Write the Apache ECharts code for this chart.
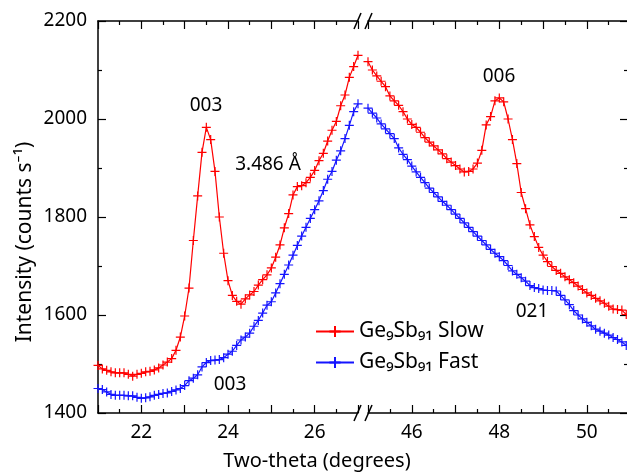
<!DOCTYPE html>
<html>
<head>
<meta charset="utf-8">
<script src="https://cdn.jsdelivr.net/npm/echarts@6/dist/echarts.min.js"></script>
<style>
  html, body { margin: 0; padding: 0; background: #fff; }
  #chart { width: 627px; height: 473px; }
</style>
</head>
<body>
<div id="chart"></div>
<script>
// two-theta sampling of the scan (degrees)
const step = 0.1
const lowStart = 21.0    // left segment 21.0 .. 27.0
const highStart = 45.0   // right segment 45.0 .. 50.9

// Ge9Sb91 slow, left segment
const slowLow = [
  1497, 1490, 1487, 1484, 1482, 1482, 1482, 1479, 1475, 1479,
  1481, 1484, 1485, 1488, 1492, 1498, 1504, 1511, 1528, 1555,
  1598, 1655, 1752, 1843, 1932, 1983, 1958, 1893, 1800, 1726,
  1670, 1640, 1628, 1622, 1633, 1641, 1648, 1661, 1672, 1682,
  1696, 1718, 1743, 1778, 1807, 1845, 1862, 1864, 1870, 1881,
  1895, 1915, 1930, 1955, 1977, 1995, 2027, 2049, 2085, 2107,
  2130
]
// Ge9Sb91 fast, left segment
const fastLow = [
  1450, 1448, 1443, 1438, 1436, 1436, 1436, 1435, 1435, 1432,
  1430, 1431, 1433, 1436, 1438, 1440, 1441, 1444, 1447, 1450,
  1456, 1466, 1471, 1478, 1494, 1503, 1507, 1508, 1509, 1513,
  1520, 1526, 1538, 1549, 1555, 1563, 1577, 1589, 1604, 1620,
  1627, 1645, 1664, 1683, 1702, 1722, 1742, 1761, 1779, 1797,
  1815, 1833, 1854, 1877, 1893, 1916, 1935, 1960, 1987, 2015,
  2031
]
// Ge9Sb91 slow, right segment
const slowHigh = [
  2117, 2100, 2088, 2077, 2066, 2047, 2037, 2028, 2015, 2000,
  1989, 1983, 1973, 1962, 1953, 1945, 1937, 1929, 1919, 1912,
  1905, 1898, 1892, 1893, 1898, 1910, 1936, 1988, 2005, 2037,
  2043, 2035, 2000, 1958, 1909, 1850, 1817, 1784, 1760, 1738,
  1722, 1709, 1699, 1691, 1685, 1678, 1672, 1666, 1659, 1652,
  1645, 1640, 1634, 1629, 1624, 1618, 1612, 1611, 1610, 1601
]
// Ge9Sb91 fast, right segment
const fastHigh = [
  2022, 2012, 2002, 1990, 1980, 1970, 1960, 1941, 1928, 1917,
  1904, 1892, 1881, 1870, 1859, 1850, 1841, 1832, 1824, 1815,
  1806, 1797, 1788, 1779, 1770, 1761, 1752, 1743, 1734, 1726,
  1719, 1711, 1701, 1690, 1683, 1676, 1669, 1660, 1656, 1654,
  1651, 1650, 1650, 1649, 1640, 1631, 1621, 1609, 1600, 1592,
  1585, 1578, 1571, 1567, 1563, 1559, 1554, 1550, 1545, 1538
]

const yTicks = [1400, 1600, 1800, 2000, 2200]
const xLabelsLow = [22, 24, 26]
const xLabelsHigh = [46, 48, 50]

const FONT = 'Noto Sans'
const RED = '#ff0000'
const BLUE = '#1414ff'
const plus = 'path://M0,5L10,5M5,0L5,10'

function pairs(start, vals) {
  return vals.map((v, i) => [+(start + i * step).toFixed(1), v])
}

function xAxis(gridIndex, min, max, position, labels) {
  return {
    type: 'value', gridIndex, position, min, max, interval: 1,
    axisLine: { show: true, onZero: false, lineStyle: { color: '#000', width: 1.5 } },
    axisTick: { show: true, inside: true, length: 8, lineStyle: { color: '#000', width: 1.2 } },
    minorTick: { show: true, splitNumber: 2, length: 4, lineStyle: { color: '#000', width: 1.2 } },
    splitLine: { show: false },
    axisLabel: {
      show: !!labels, margin: 10, fontFamily: FONT, fontSize: 19, color: '#000',
      formatter: v => (labels && labels.some(l => Math.abs(l - v) < 1e-6)) ? String(Math.round(v)) : ''
    }
  }
}

function yAxis(gridIndex, position, labels) {
  return {
    type: 'value', gridIndex, position, min: yTicks[0], max: yTicks[yTicks.length - 1], interval: 200,
    axisLine: { show: true, lineStyle: { color: '#000', width: 1.5 } },
    axisTick: { show: true, inside: true, length: 8, lineStyle: { color: '#000', width: 1.2 } },
    minorTick: { show: true, splitNumber: 2, length: 4, lineStyle: { color: '#000', width: 1.2 } },
    splitLine: { show: false },
    axisLabel: { show: labels, margin: 11, fontFamily: FONT, fontSize: 19, color: '#000', formatter: v => String(v) }
  }
}

function line(name, xi, data, color) {
  return {
    type: 'line', name, xAxisIndex: xi, yAxisIndex: xi < 2 ? 0 : 1, data,
    symbol: plus, symbolSize: 9, showAllSymbol: true, clip: false,
    lineStyle: { color, width: 1.2 },
    itemStyle: { color, borderColor: color, borderWidth: 1.2 },
    emphasis: { disabled: true }
  }
}

function slash(x, y) {
  return { type: 'line', shape: { x1: x, y1: y + 8, x2: x + 7, y2: y - 8 }, style: { stroke: '#000', lineWidth: 1.5 } }
}
function label(text, x, y, size) {
  return { type: 'text', x, y, style: { text, fontFamily: FONT, fontSize: size || 19, fill: '#000', align: 'center', verticalAlign: 'middle' } }
}

const chart = echarts.init(document.getElementById('chart'))
chart.setOption({
  animation: false,
  backgroundColor: '#fff',
  grid: [
    { left: 98, top: 21, width: 260, height: 392, outerBoundsMode: 'none' },
    { left: 368, top: 21, width: 260, height: 392, outerBoundsMode: 'none' }
  ],
  xAxis: [
    xAxis(0, 21, 27, 'bottom', xLabelsLow),
    xAxis(0, 21, 27, 'top', null),
    xAxis(1, 45, 50.94, 'bottom', xLabelsHigh),
    xAxis(1, 45, 50.94, 'top', null)
  ],
  yAxis: [yAxis(0, 'left', true), yAxis(1, 'right', false)],
  legend: {
    orient: 'vertical', left: 310, top: 316, itemWidth: 38, itemHeight: 14, itemGap: 10,
    data: ['Slow', 'Fast'],
    formatter: n => 'Ge₉Sb₉₁ ' + n,
    textStyle: { fontFamily: FONT, fontSize: 21, color: '#000' }
  },
  series: [
    line('Slow', 0, pairs(lowStart, slowLow), RED),
    line('Fast', 0, pairs(lowStart, fastLow), BLUE),
    line('Slow', 2, pairs(highStart, slowHigh), RED),
    line('Fast', 2, pairs(highStart, fastHigh), BLUE)
  ],
  graphic: [
    slash(354, 21), slash(365, 21), slash(354, 413), slash(365, 413),
    label('003', 206, 106),
    label('3.486 Å', 268, 165),
    label('006', 499, 77),
    label('021', 532, 312),
    label('003', 230, 385),
    label('Two-theta (degrees)', 317, 461, 20),
    { type: 'text', x: 25, y: 242, rotation: Math.PI / 2,
      style: { text: 'Intensity (counts s⁻¹)', fontFamily: FONT, fontSize: 21, fill: '#000', align: 'center', verticalAlign: 'middle' } }
  ]
})
</script>
</body>
</html>
